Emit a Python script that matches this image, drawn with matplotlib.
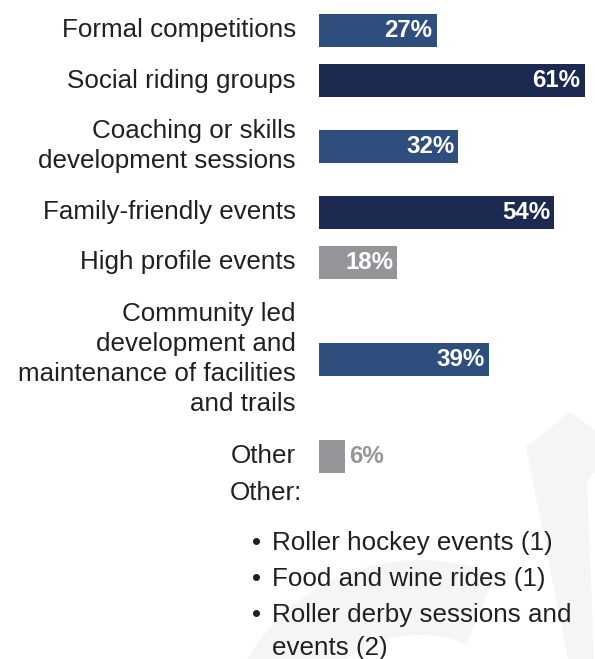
import matplotlib
matplotlib.use("Agg")
import matplotlib.pyplot as plt
from matplotlib.patches import Wedge, Polygon

plt.rcParams['font.family'] = ['Liberation Sans', 'DejaVu Sans']

# ---- data -----------------------------------------------------------------
categories = [
    "Formal competitions",
    "Social riding groups",
    "Coaching or skills\ndevelopment sessions",
    "Family-friendly events",
    "High profile events",
    "Community led\ndevelopment and\nmaintenance of facilities\nand trails",
    "Other",
]
values = [27, 61, 32, 54, 18, 39, 6]

other_heading = "Other:"
other_responses = [
    "Roller hockey events (1)",
    "Food and wine rides (1)",
    "Roller derby sessions and\nevents (2)",
]

# ---- style ----------------------------------------------------------------
NAVY = "#1c2951"
BLUE = "#2e4e7e"
GREY = "#939598"
TEXT = "#231f20"
WATERMARK = "#f5f5f5"
bar_colors = [BLUE, NAVY, BLUE, NAVY, GREY, BLUE, GREY]

W, H, DPI = 595, 659, 100
PX = 72 / DPI            # points per pixel
LABEL_FS = 26 * PX
VALUE_FS = 24 * PX

fig = plt.figure(figsize=(W / DPI, H / DPI), dpi=DPI)
fig.patch.set_facecolor("white")

# background canvas measured in pixels (y downwards)
bg = fig.add_axes([0, 0, 1, 1])
bg.set_xlim(0, W)
bg.set_ylim(H, 0)
bg.axis("off")
bg.add_patch(Wedge((420, 760), 200, 180, 292, width=75, color=WATERMARK, lw=0))
bg.add_patch(Polygon([(526, 447), (570, 412), (595, 430), (595, 472),
                      (587, 481), (594, 659), (568, 659)],
                     closed=True, color=WATERMARK, lw=0))

# bar panel: x in percent, y in pixels
left_px = 319
xmax = 63.4
ax = fig.add_axes([left_px / W, 0, (W - left_px) / W, 1])
ax.patch.set_alpha(0)
ax.set_xlim(0, xmax)
ax.set_ylim(H, 0)
ax.axis("off")

# row centres grow with the number of lines in each label
n_lines = [c.count("\n") + 1 for c in categories]
first_row, row_gap, line_h = 30.5, 18.8, 31.3
centers = [first_row]
for a, b in zip(n_lines[:-1], n_lines[1:]):
    centers.append(centers[-1] + row_gap + line_h * (a + b) / 2)

ax.barh(centers, values, height=33, color=bar_colors, lw=0, zorder=2)

px_per_pct = (W - left_px) / xmax
for y, v, lab in zip(centers, values, categories):
    ax.annotate(lab, xy=(0, y), xycoords=("axes fraction", "data"),
                xytext=(-23 * PX, 0), textcoords="offset points",
                ha="right", va="center", fontsize=LABEL_FS, color=TEXT,
                linespacing=1.32)
    txt = f"{v}%"
    if v * px_per_pct > 45:
        ax.annotate(txt, xy=(v, y), xytext=(-4 * PX, 0),
                    textcoords="offset points", ha="right", va="center",
                    fontsize=VALUE_FS, fontweight="bold", color="white",
                    zorder=3)
    else:
        ax.annotate(txt, xy=(v, y), xytext=(4 * PX, 0),
                    textcoords="offset points", ha="left", va="center",
                    fontsize=VALUE_FS, fontweight="bold", color=GREY,
                    zorder=3)

# free-text responses listed under the chart
bg.text(230, 500, other_heading, ha="left", va="baseline",
        fontsize=LABEL_FS, color=TEXT)
baseline = 550
for item in other_responses:
    bg.text(252, baseline, "\u2022", ha="left", va="baseline",
            fontsize=LABEL_FS, color=TEXT)
    for line in item.split("\n"):
        bg.text(272, baseline, line, ha="left", va="baseline",
                fontsize=LABEL_FS, color=TEXT)
        baseline += 33
    baseline += 3

fig.savefig("out.png", dpi=DPI, facecolor="white")
